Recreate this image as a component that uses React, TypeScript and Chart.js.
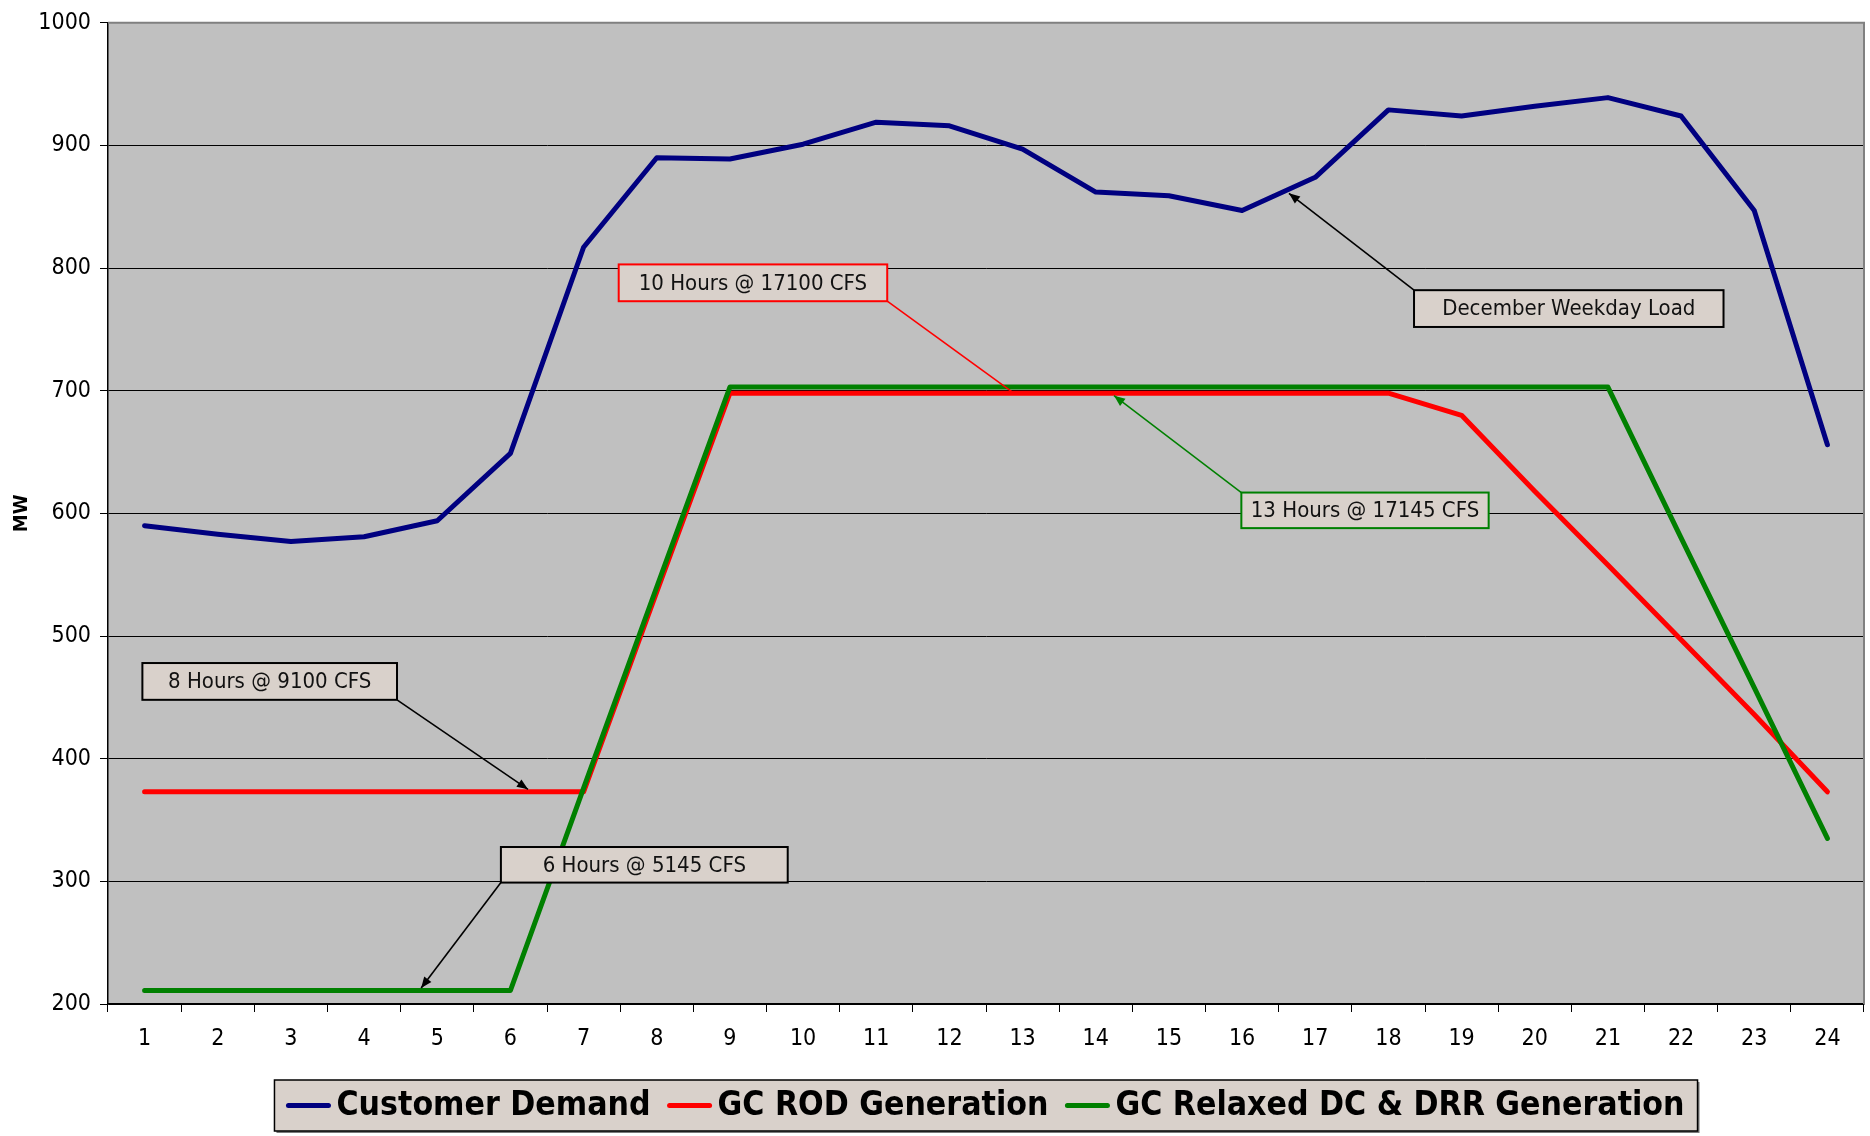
import React, { useEffect, useRef } from "react";
import { Chart, registerables } from "chart.js";

Chart.register(...registerables);

const FONT = "'DejaVu Sans Condensed', 'DejaVu Sans', sans-serif";

const hours = ["1","2","3","4","5","6","7","8","9","10","11","12","13","14","15","16","17","18","19","20","21","22","23","24"];
const customerDemand = [590, 583, 577, 581, 594, 649, 817, 890, 889, 901, 919, 916, 897, 862, 859, 847, 874, 929, 924, 932, 939, 924, 847, 656];
const gcRodGeneration = [373, 373, 373, 373, 373, 373, 373, 536, 698, 698, 698, 698, 698, 698, 698, 698, 698, 698, 680, 618, 558, 497, 436, 373];
const gcRelaxedGeneration = [211, 211, 211, 211, 211, 211, 376, 540, 703, 703, 703, 703, 703, 703, 703, 703, 703, 703, 703, 703, 703, 580, 458, 335];

const seriesNames = ["Customer Demand", "GC ROD Generation", "GC Relaxed DC & DRR Generation"];
const seriesColors = ["#000080", "#ff0000", "#008000"];

const yTicks = [200, 300, 400, 500, 600, 700, 800, 900, 1000];

// annotation callouts: text, box (hour left/right, MW top/bottom), anchor corner, tip (hour, MW), color, arrow
const noteTexts = ["10 Hours @ 17100 CFS", "13 Hours @ 17145 CFS", "December Weekday Load", "8 Hours @ 9100 CFS", "6 Hours @ 5145 CFS"];
const noteBoxHours = [[7.48, 11.15], [15.99, 19.37], [18.35, 22.58], [0.97, 4.45], [5.87, 9.79]];
const noteBoxMW = [[803, 773], [617, 588], [782, 752], [478, 448], [328, 299]];
const noteCorner = ["br", "tl", "tl", "br", "bl"];
const noteTipHour = [12.88, 14.25, 16.64, 6.24, 4.78];
const noteTipMW = [698, 696, 861, 375, 213];
const noteColors = ["#ff0000", "#008000", "#000000", "#000000", "#000000"];
const noteArrow = [false, true, true, true, true];

const BOX_FILL = "#d9d1cb";

function drawArrowHead(ctx: CanvasRenderingContext2D, x0: number, y0: number, x1: number, y1: number, color: string) {
  const ang = Math.atan2(y1 - y0, x1 - x0);
  const len = 11;
  const hw = 4.5;
  ctx.save();
  ctx.fillStyle = color;
  ctx.beginPath();
  ctx.moveTo(x1, y1);
  ctx.lineTo(x1 - len * Math.cos(ang) + hw * Math.sin(ang), y1 - len * Math.sin(ang) - hw * Math.cos(ang));
  ctx.lineTo(x1 - len * Math.cos(ang) - hw * Math.sin(ang), y1 - len * Math.sin(ang) + hw * Math.cos(ang));
  ctx.closePath();
  ctx.fill();
  ctx.restore();
}

const plotBgPlugin = {
  id: "plotBg",
  beforeDraw(chart: any) {
    const { ctx, chartArea: a } = chart;
    ctx.save();
    ctx.fillStyle = "#ffffff";
    ctx.fillRect(0, 0, chart.width, chart.height);
    ctx.fillStyle = "#c0c0c0";
    ctx.fillRect(a.left, a.top, a.right - a.left, a.bottom - a.top);
    ctx.restore();
  },
  afterDatasetsDraw(chart: any) {
    const { ctx, chartArea: a } = chart;
    ctx.save();
    ctx.strokeStyle = "#808080";
    ctx.lineWidth = 2;
    ctx.beginPath();
    ctx.moveTo(a.left, a.top);
    ctx.lineTo(a.right, a.top);
    ctx.lineTo(a.right, a.bottom);
    ctx.stroke();
    ctx.restore();
  },
};

const notesPlugin = {
  id: "notes",
  afterDatasetsDraw(chart: any) {
    const { ctx } = chart;
    const xs = chart.scales.x;
    const ys = chart.scales.y;
    ctx.save();
    noteTexts.forEach((t, i) => {
      const l = xs.getPixelForValue(noteBoxHours[i][0] - 1);
      const r = xs.getPixelForValue(noteBoxHours[i][1] - 1);
      const tp = ys.getPixelForValue(noteBoxMW[i][0]);
      const bt = ys.getPixelForValue(noteBoxMW[i][1]);
      const c = noteCorner[i];
      const sx = c.includes("l") ? l : r;
      const sy = c.includes("t") ? tp : bt;
      const tx = xs.getPixelForValue(noteTipHour[i] - 1);
      const ty = ys.getPixelForValue(noteTipMW[i]);
      ctx.strokeStyle = noteColors[i];
      ctx.lineWidth = 1.6;
      ctx.beginPath();
      ctx.moveTo(sx, sy);
      ctx.lineTo(tx, ty);
      ctx.stroke();
      if (noteArrow[i]) drawArrowHead(ctx, sx, sy, tx, ty, noteColors[i]);
      ctx.fillStyle = BOX_FILL;
      ctx.fillRect(l, tp, r - l, bt - tp);
      ctx.lineWidth = 2;
      ctx.strokeRect(l, tp, r - l, bt - tp);
      ctx.fillStyle = "#111111";
      ctx.font = `22px ${FONT}`;
      ctx.textAlign = "center";
      ctx.textBaseline = "middle";
      ctx.fillText(t, (l + r) / 2, (tp + bt) / 2 + 1);
    });
    ctx.restore();
  },
};

const legendPlugin = {
  id: "customLegend",
  afterDraw(chart: any) {
    const { ctx, chartArea: a } = chart;
    ctx.save();
    ctx.font = `bold 33.5px ${FONT}`;
    const sample = 44;
    const gap = 6;
    const itemGap = 17;
    const padL = 12;
    const padR = 13;
    const widths = seriesNames.map((n) => ctx.measureText(n).width);
    let total = padL + padR + itemGap * (seriesNames.length - 1);
    widths.forEach((w) => (total += sample + gap + w));
    const cx = (a.left + a.right) / 2;
    const x0 = cx - total / 2;
    const top = a.bottom + 76;
    const h = 51;
    ctx.fillStyle = "#7a7a7a";
    ctx.fillRect(x0 + 2, top + 2, total, h);
    ctx.fillStyle = BOX_FILL;
    ctx.fillRect(x0, top, total, h);
    ctx.strokeStyle = "#000";
    ctx.lineWidth = 1.5;
    ctx.strokeRect(x0, top, total, h);
    let x = x0 + padL;
    const cy = top + h / 2;
    seriesNames.forEach((n, i) => {
      ctx.strokeStyle = seriesColors[i];
      ctx.lineWidth = 5;
      ctx.lineCap = "round";
      ctx.beginPath();
      ctx.moveTo(x + 2, cy);
      ctx.lineTo(x + sample - 2, cy);
      ctx.stroke();
      x += sample + gap;
      ctx.fillStyle = "#000";
      ctx.textAlign = "left";
      ctx.textBaseline = "middle";
      ctx.fillText(n, x, cy + 1);
      x += widths[i] + itemGap;
    });
    ctx.restore();
  },
};

export default function App() {
  const ref = useRef<HTMLCanvasElement | null>(null);
  useEffect(() => {
    if (!ref.current) return;
    const data = [customerDemand, gcRodGeneration, gcRelaxedGeneration];
    const chart = new Chart(ref.current, {
      type: "line",
      data: {
        labels: hours,
        datasets: data.map((d, i) => ({
          label: seriesNames[i],
          data: d,
          borderColor: seriesColors[i],
          backgroundColor: seriesColors[i],
          borderWidth: 5,
          pointRadius: 0,
          tension: 0,
          borderCapStyle: "round" as const,
          borderJoinStyle: "round" as const,
          order: 2 - i,
        })),
      },
      options: {
        animation: false,
        responsive: false,
        layout: { padding: { top: 19, right: 6, left: 0, bottom: 0 } },
        plugins: { legend: { display: false }, tooltip: { enabled: false } },
        scales: {
          x: {
            type: "category",
            offset: true,
            grid: { offset: true, drawOnChartArea: false, drawTicks: true, tickLength: 8, color: "#000", lineWidth: 1 },
            border: { color: "#000", width: 1.5 },
            ticks: { font: { family: FONT, size: 23 }, color: "#000", padding: 13, maxRotation: 0, autoSkip: false },
            afterFit: (s: any) => { s.height = 132; },
          },
          y: {
            min: 200,
            max: 1000,
            afterBuildTicks: (s: any) => { s.ticks = yTicks.map((v) => ({ value: v })); },
            ticks: { font: { family: FONT, size: 23 }, color: "#000", padding: 9, callback: (v: any) => String(v) },
            grid: { color: "#000", lineWidth: 1, tickLength: 8 },
            border: { color: "#000", width: 1.5 },
            title: { display: true, text: "MW", font: { family: FONT, size: 20, weight: "bold" }, color: "#000", padding: { top: 10, bottom: 0 } },
            afterFit: (s: any) => { s.width = 108; },
          },
        },
      } as any,
      plugins: [plotBgPlugin, notesPlugin, legendPlugin],
    });
    return () => chart.destroy();
  }, []);
  return (
    <div style={{ position: "absolute", left: 0, top: 0, width: 1870, height: 1136, background: "#fff" }}>
      <canvas ref={ref} width={1870} height={1136} style={{ display: "block" }} />
    </div>
  );
}
